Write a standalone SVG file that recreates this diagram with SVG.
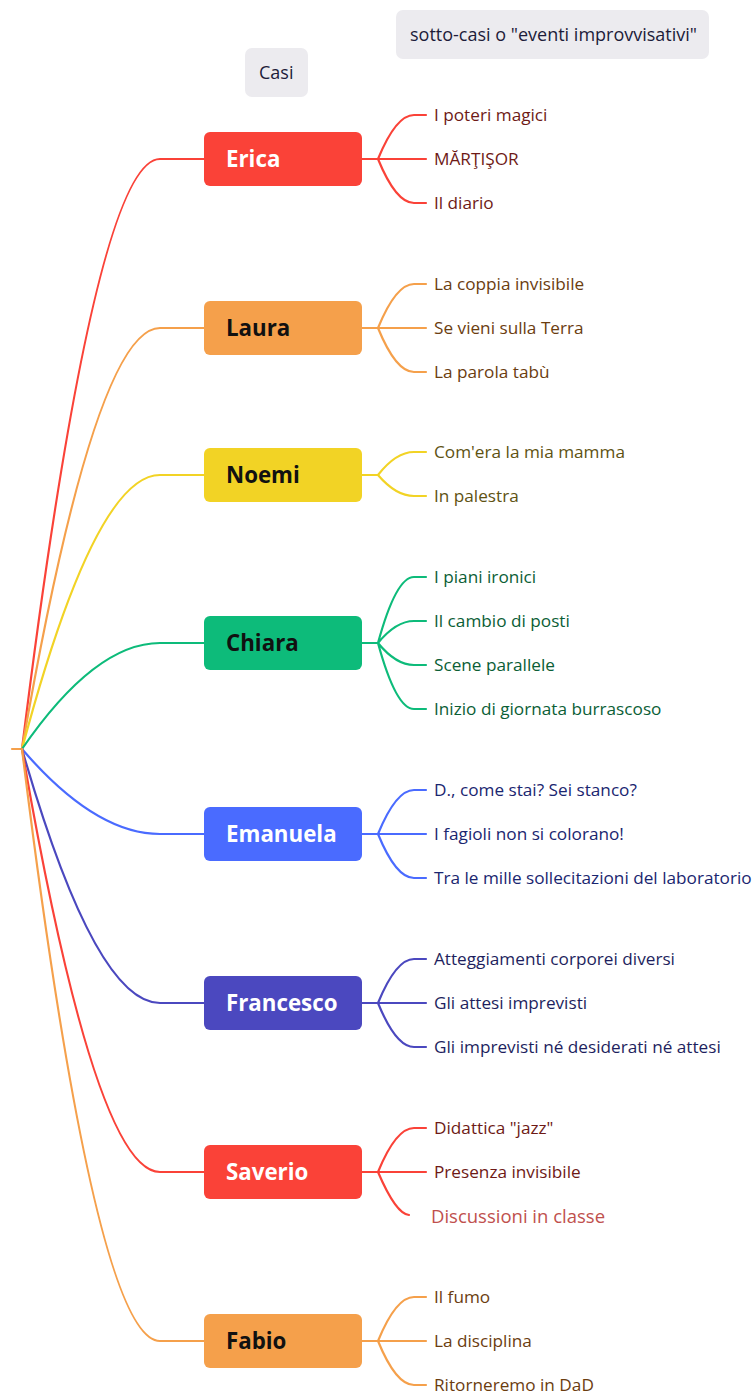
<svg xmlns="http://www.w3.org/2000/svg" width="754" height="1394" viewBox="0 0 754 1394">
<style>
.lbl{fill:#ECEBEF}
.lt{font-family:"Open Sans","Noto Sans",sans-serif;font-size:18px;fill:#1d1c3a}
.nt{font-family:"Open Sans","Noto Sans",sans-serif;font-size:22.3px;font-weight:bold}
.ct{font-family:"Open Sans","Noto Sans",sans-serif;font-size:17.2px}
.br{fill:none;stroke-width:2.2;stroke-linecap:round}
</style>
<rect width="754" height="1394" fill="#ffffff"/>
<g id="label-casi"><rect class="lbl" x="245" y="48" width="63" height="49" rx="7"/><text class="lt" x="259" y="79">Casi</text></g>
<g id="label-sottocasi"><rect class="lbl" x="396" y="10" width="313" height="49" rx="7"/><text class="lt" x="410" y="41">sotto-casi o "eventi improvvisativi"</text></g>
<g id="connectors">
<path class="br" stroke="#F5A04B" d="M12,749 H22"/>
<path class="br" stroke="#FA4238" d="M22,749 Q95,159 160,159 H204"/>
<path class="br" stroke="#F5A04B" d="M22,749 Q95,328 160,328 H204"/>
<path class="br" stroke="#F2D325" d="M22,749 Q95,475 160,475 H204"/>
<path class="br" stroke="#0DBB7A" d="M22,749 Q95,643 160,643 H204"/>
<path class="br" stroke="#4A6BFF" d="M22,749 Q95,834 160,834 H204"/>
<path class="br" stroke="#4B48BF" d="M22,749 Q95,1003 160,1003 H204"/>
<path class="br" stroke="#FA4238" d="M22,749 Q95,1172 160,1172 H204"/>
<path class="br" stroke="#F5A04B" d="M22,749 Q95,1341 160,1341 H204"/>
<path class="br" stroke="#FA4238" d="M362,159 H426 M378,159 Q396,115 414,115 H426 M378,159 Q396,203 414,203 H426"/>
<path class="br" stroke="#F5A04B" d="M362,328 H426 M378,328 Q396,284 414,284 H426 M378,328 Q396,372 414,372 H426"/>
<path class="br" stroke="#F2D325" d="M362,475 H378 M378,475 Q396,452 414,452 H426 M378,475 Q396,496 414,496 H426"/>
<path class="br" stroke="#0DBB7A" d="M362,643 H378 M378,643 Q396,577 414,577 H426 M378,643 Q396,621 414,621 H426 M378,643 Q396,665 414,665 H426 M378,643 Q396,709 414,709 H426"/>
<path class="br" stroke="#4A6BFF" d="M362,834 H426 M378,834 Q396,790 414,790 H426 M378,834 Q396,878 414,878 H426"/>
<path class="br" stroke="#4B48BF" d="M362,1003 H426 M378,1003 Q396,959 414,959 H426 M378,1003 Q396,1047 414,1047 H426"/>
<path class="br" stroke="#FA4238" d="M362,1172 H426 M378,1172 Q396,1128 414,1128 H426 M378,1172 Q396,1214 409,1215"/>
<path class="br" stroke="#F5A04B" d="M362,1341 H426 M378,1341 Q396,1297 414,1297 H426 M378,1341 Q396,1385 414,1385 H426"/>
</g>
<g id="node-erica"><rect x="204" y="132" width="158" height="54" rx="6" fill="#FA4238"/><text class="nt" x="226" y="167" fill="#ffffff">Erica</text>
<g class="ct" fill="#6E1A16"><text x="434" y="121">I poteri magici</text><text x="434" y="165">MĂRŢIŞOR</text><text x="434" y="209">Il diario</text></g></g>
<g id="node-laura"><rect x="204" y="301" width="158" height="54" rx="6" fill="#F5A04B"/><text class="nt" x="226" y="336" fill="#111111">Laura</text>
<g class="ct" fill="#6B3D10"><text x="434" y="290">La coppia invisibile</text><text x="434" y="334">Se vieni sulla Terra</text><text x="434" y="378">La parola tabù</text></g></g>
<g id="node-noemi"><rect x="204" y="448" width="158" height="54" rx="6" fill="#F2D325"/><text class="nt" x="226" y="483" fill="#111111">Noemi</text>
<g class="ct" fill="#5E5212"><text x="434" y="458">Com'era la mia mamma</text><text x="434" y="502">In palestra</text></g></g>
<g id="node-chiara"><rect x="204" y="616" width="158" height="54" rx="6" fill="#0DBB7A"/><text class="nt" x="226" y="651" fill="#111111">Chiara</text>
<g class="ct" fill="#0B5E36"><text x="434" y="583">I piani ironici</text><text x="434" y="627">Il cambio di posti</text><text x="434" y="671">Scene parallele</text><text x="434" y="715">Inizio di giornata burrascoso</text></g></g>
<g id="node-emanuela"><rect x="204" y="807" width="158" height="54" rx="6" fill="#4A6BFF"/><text class="nt" x="226" y="842" fill="#ffffff">Emanuela</text>
<g class="ct" fill="#1A2670"><text x="434" y="796">D., come stai? Sei stanco?</text><text x="434" y="840">I fagioli non si colorano!</text><text x="434" y="884">Tra le mille sollecitazioni del laboratorio</text></g></g>
<g id="node-francesco"><rect x="204" y="976" width="158" height="54" rx="6" fill="#4B48BF"/><text class="nt" x="226" y="1011" fill="#ffffff">Francesco</text>
<g class="ct" fill="#1E1F5E"><text x="434" y="965">Atteggiamenti corporei diversi</text><text x="434" y="1009">Gli attesi imprevisti</text><text x="434" y="1053">Gli imprevisti né desiderati né attesi</text></g></g>
<g id="node-saverio"><rect x="204" y="1145" width="158" height="54" rx="6" fill="#FA4238"/><text class="nt" x="226" y="1180" fill="#ffffff">Saverio</text>
<g class="ct" fill="#6E1A16"><text x="434" y="1134">Didattica "jazz"</text><text x="434" y="1178">Presenza invisibile</text></g>
<text x="431" y="1223" font-family="'Open Sans','Noto Sans',sans-serif" font-size="18.5" fill="#C0504D">Discussioni in classe</text></g>
<g id="node-fabio"><rect x="204" y="1314" width="158" height="54" rx="6" fill="#F5A04B"/><text class="nt" x="226" y="1349" fill="#111111">Fabio</text>
<g class="ct" fill="#6B3D10"><text x="434" y="1303">Il fumo</text><text x="434" y="1347">La disciplina</text><text x="434" y="1391">Ritorneremo in DaD</text></g></g>
</svg>
